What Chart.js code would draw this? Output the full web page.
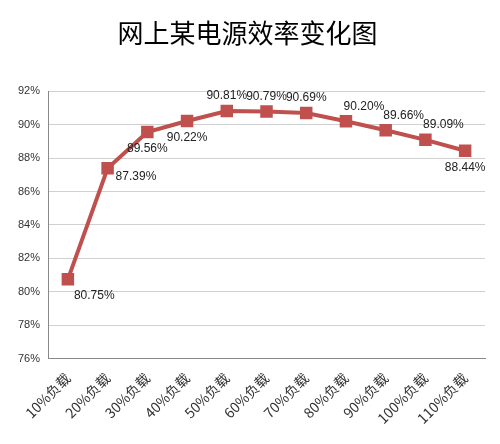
<!DOCTYPE html>
<html><head><meta charset="utf-8">
<script src="https://cdn.jsdelivr.net/npm/chart.js@4"></script>
<style>body{margin:0;background:#fff}#w{width:500px;height:444px}</style>
</head><body><div id="w"><canvas id="c"></canvas></div>
<script>
const categories=['10%负载','20%负载','30%负载','40%负载','50%负载','60%负载','70%负载','80%负载','90%负载','100%负载','110%负载'];
const efficiency=[80.75,87.39,89.56,90.22,90.81,90.79,90.69,90.20,89.66,89.09,88.44];
const yTicks=[76,78,80,82,84,86,88,90,92];
const labelPlace=['br','r','b','b','t','t','t','tr','tr','tr','b'];
const labels={id:'lbl',afterDatasetsDraw(ch){const ctx=ch.ctx;const m=ch.getDatasetMeta(0);ctx.save();ctx.font='12px "Liberation Sans", Arial';ctx.fillStyle='#222';ctx.textBaseline='middle';
m.data.forEach((p,i)=>{const t=efficiency[i].toFixed(2)+'%';let x=p.x,y=p.y;const pl=labelPlace[i];
if(pl==='br'){x+=6;y+=16;ctx.textAlign='left';}else if(pl==='r'){x+=8;y+=8;ctx.textAlign='left';}else if(pl==='b'){ctx.textAlign='center';y+=17;}else if(pl==='tr'){ctx.textAlign='center';x+=18;y-=15;}else{ctx.textAlign='center';y-=15;}
ctx.fillText(t,x,y);});ctx.restore();}};
new Chart(document.getElementById('c'),{type:'line',data:{labels:categories,datasets:[{data:efficiency,borderColor:'#C0504D',backgroundColor:'#C0504D',borderWidth:4,pointStyle:'rect',pointRadius:6,pointHoverRadius:6,tension:0}]},
options:{responsive:true,maintainAspectRatio:false,animation:false,layout:{padding:{left:10,right:15,top:8,bottom:14}},
plugins:{legend:{display:false},tooltip:{enabled:false},title:{display:true,text:'网上某电源效率变化图',color:'#000',font:{size:26,family:'"Noto Sans CJK SC"',weight:'normal'},padding:{top:10,bottom:42}}},
scales:{y:{min:76,max:92,afterBuildTicks(a){a.ticks=yTicks.map(v=>({value:v}));},ticks:{callback:v=>v+'%',color:'#333',font:{size:11},padding:8},grid:{color:'#d0d0d0',drawTicks:false},border:{color:'#888'}},
x:{offset:true,ticks:{maxRotation:45,minRotation:45,color:'#333',font:{size:14,family:'"Noto Sans CJK SC"'}},grid:{display:false},border:{color:'#888'}}}},plugins:[labels]});
</script></body></html>
